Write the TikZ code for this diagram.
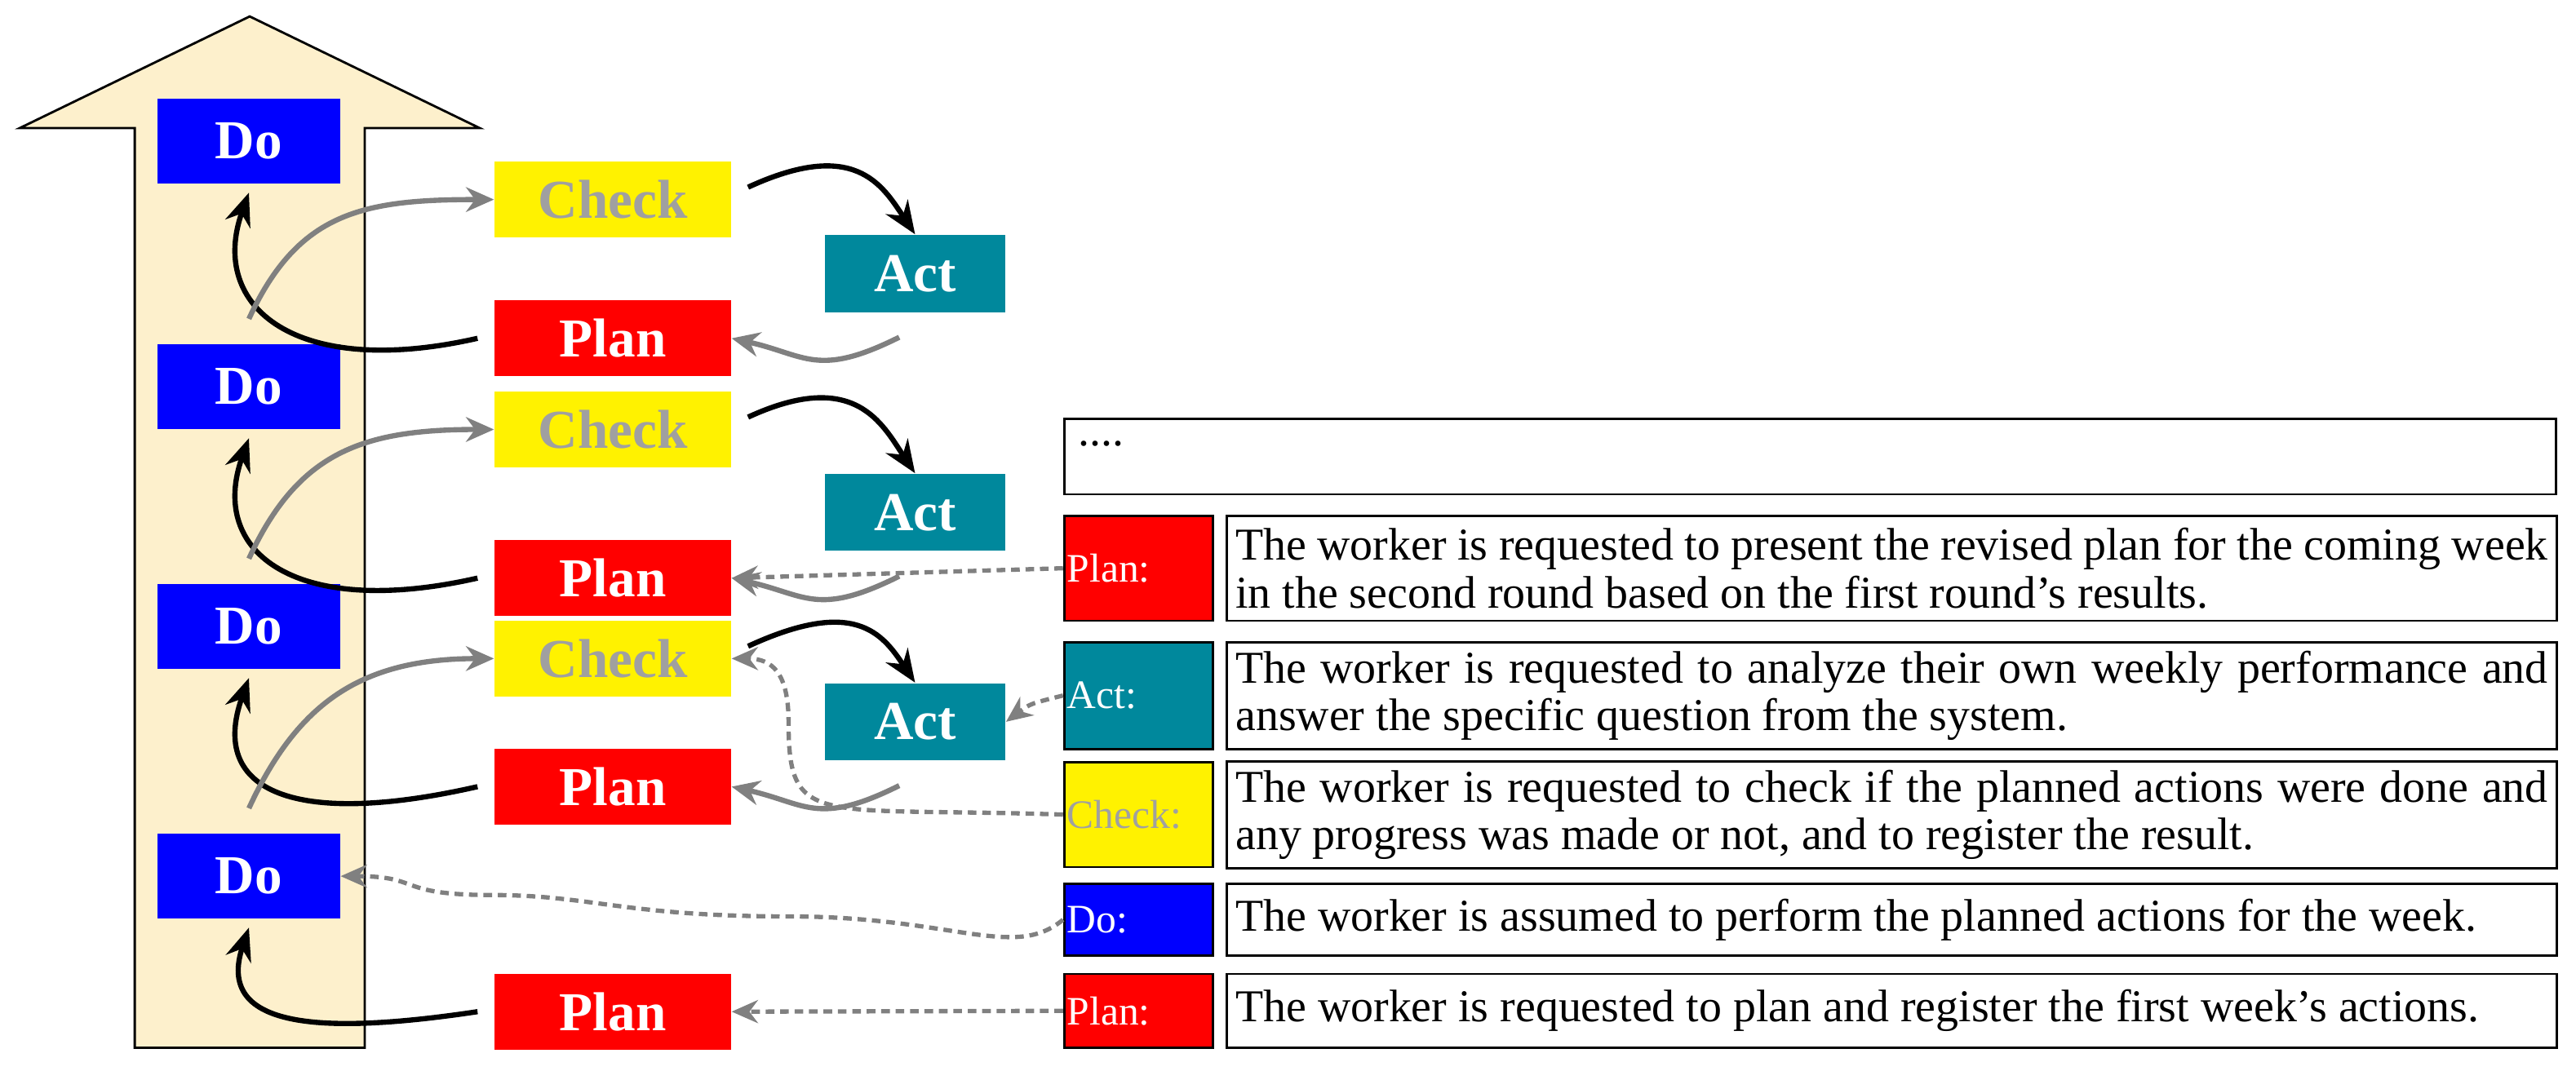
\documentclass[tikz,border=0pt]{standalone}
\usepackage{fontspec}
\setmainfont{Liberation Serif}
\usetikzlibrary{arrows.meta}
\definecolor{teal2}{RGB}{0,136,156}
\definecolor{cream}{RGB}{253,240,204}
\definecolor{gr}{RGB}{128,128,128}
\definecolor{lgr}{RGB}{160,160,160}
\begin{document}
\begin{tikzpicture}[x=0.02cm,y=-0.02cm,
 box/.style={inner sep=0pt,font=\fontsize{19pt}{19pt}\selectfont\bfseries,text=white},
 do/.style={box,fill=blue,minimum width=2.22cm,minimum height=1.04cm},
 ck/.style={box,fill=yellow,text=lgr,minimum width=2.88cm,minimum height=0.92cm},
 pl/.style={box,fill=red,minimum width=2.88cm,minimum height=0.92cm},
 ac/.style={box,fill=teal2,minimum width=2.2cm,minimum height=0.94cm},
 lab/.style={draw=black,line width=0.8pt,inner sep=1pt,minimum width=1.8cm,text width=1.74cm,align=left,text=white,font=\fontsize{14pt}{14pt}\selectfont},
 txt/.style={draw=black,line width=0.8pt,inner sep=3pt,minimum width=16.18cm,text width=15.98cm,align=justify,font=\fontsize{15.8pt}{16.5pt}\selectfont},
 blk/.style={line width=1.8pt,-{Stealth[length=0.4cm,width=0.32cm]}},
 gry/.style={gr,line width=1.8pt,-{Stealth[length=0.34cm,width=0.3cm]}},
 dsh/.style={gr,line width=1.5pt,dash pattern=on 3pt off 2pt,-{Stealth[length=0.32cm,width=0.28cm]}}]
\useasboundingbox (0,0) rectangle (1568,652);
% big arrow
\draw[fill=cream,line width=0.8pt] (82,638) -- (82,78) -- (12,78) -- (152,10) -- (292,78) -- (222,78) -- (222,638) -- cycle;
% left column
\node[do] (d1) at (151.5,86) {Do};
\node[do] (d2) at (151.5,235.5) {Do};
\node[do] (d3) at (151.5,381.5) {Do};
\node[do] (d4) at (151.5,533.5) {Do};
\node[ck] (c1) at (373,121.5) {Check};
\node[ck] (c2) at (373,261.5) {Check};
\node[ck] (c3) at (373,401) {Check};
\node[ac] (a1) at (557,166.5) {Act};
\node[ac] (a2) at (557,312) {Act};
\node[ac] (a3) at (557,439.5) {Act};
\node[pl] (p1) at (373,206) {Plan};
\node[pl] (p2) at (373,352) {Plan};
\node[pl] (p3) at (373,479) {Plan};
\node[pl] (p4) at (373,616) {Plan};
% right legend
\node[draw=black,line width=0.8pt,minimum width=18.16cm,minimum height=0.92cm,inner sep=0pt] (dots) at (1102,278) {};
\node[anchor=west,font=\fontsize{15.8pt}{16pt}\selectfont] (dt) at (650,270) {....};
\node[lab,fill=red,minimum height=1.28cm] (lp2) at (693,346) {Plan:};
\node[txt,minimum height=1.28cm] (tp2) at (1151.5,346) {The worker is requested to present the revised plan for the coming week in the second round based on the first round’s results.};
\node[lab,fill=teal2,minimum height=1.3cm] (la) at (693,423.5) {Act:};
\node[txt,minimum height=1.3cm] (ta) at (1151.5,423.5) {The worker is requested to analyze their own weekly performance and answer the specific question from the system.};
\node[lab,fill=yellow,text=lgr,minimum height=1.28cm] (lc) at (693,496) {Check:};
\node[txt,minimum height=1.28cm] (tc) at (1151.5,496) {The worker is requested to check if the planned actions were done and any progress was made or not, and to register the result.};
\node[lab,fill=blue,minimum height=0.88cm] (ld) at (693,560) {Do:};
\node[txt,minimum height=0.88cm] (td) at (1151.5,560) {The worker is assumed to perform the planned actions for the week.};
\node[lab,fill=red,minimum height=0.9cm] (lp1) at (693,615.5) {Plan:};
\node[txt,minimum height=0.9cm] (tp1) at (1151.5,615.5) {The worker is requested to plan and register the first week’s actions.};
% cycle arrows
\foreach \p/\d/\c/\a/\dd in {p1/d1/c1/a1/d2,p2/d2/c2/a2/d3,p3/d3/c3/a3/d4}{
 \draw[blk] ([xshift=-0.2cm]\p.west) .. controls +(-2.2cm,-0.5cm) and +(-0.5cm,-1.4cm) .. ([yshift=-0.1cm]\d.south);
 \draw[gry] ([yshift=0.3cm]\dd.north) .. controls +(0.6cm,1.3cm) and +(-1.6cm,0cm) .. (\c.west);
 \draw[blk] ([xshift=0.2cm,yshift=0.15cm]\c.east) .. controls +(1.3cm,0.6cm) and +(-0.4cm,0.6cm) .. (\a.north);
 \draw[gry] ([xshift=-1.3cm,yshift=-0.3cm]\a.south east) .. controls +(-1cm,-0.5cm) and +(0.9cm,-0.2cm) .. (\p.east);
}
\draw[blk] ([xshift=-0.2cm]p4.west) .. controls +(-2cm,-0.3cm) and +(-0.4cm,-1.2cm) .. ([yshift=-0.1cm]d4.south);
% dashed
\draw[dsh] (lp2.west) -- (p2.east);
\draw[dsh] (la.west) .. controls +(-0.4cm,-0.1cm) .. (a3.east);
\draw[dsh] (lc.west) .. controls +(-3cm,0.1cm) and +(0cm,-1.3cm) .. (480,440) .. controls +(0,0.6cm) and +(0.5cm,0cm) .. (c3.east);
\draw[dsh] (ld.west) .. controls +(-0.6cm,-0.5cm) and +(2cm,0cm) .. (480,558) .. controls +(-2cm,0cm) and +(1.2cm,0cm) .. (300,545) .. controls +(-1.2cm,0cm) and +(1cm,0cm) .. (d4.east);
\draw[dsh] (lp1.west) -- (p4.east);
\end{tikzpicture}
\end{document}
